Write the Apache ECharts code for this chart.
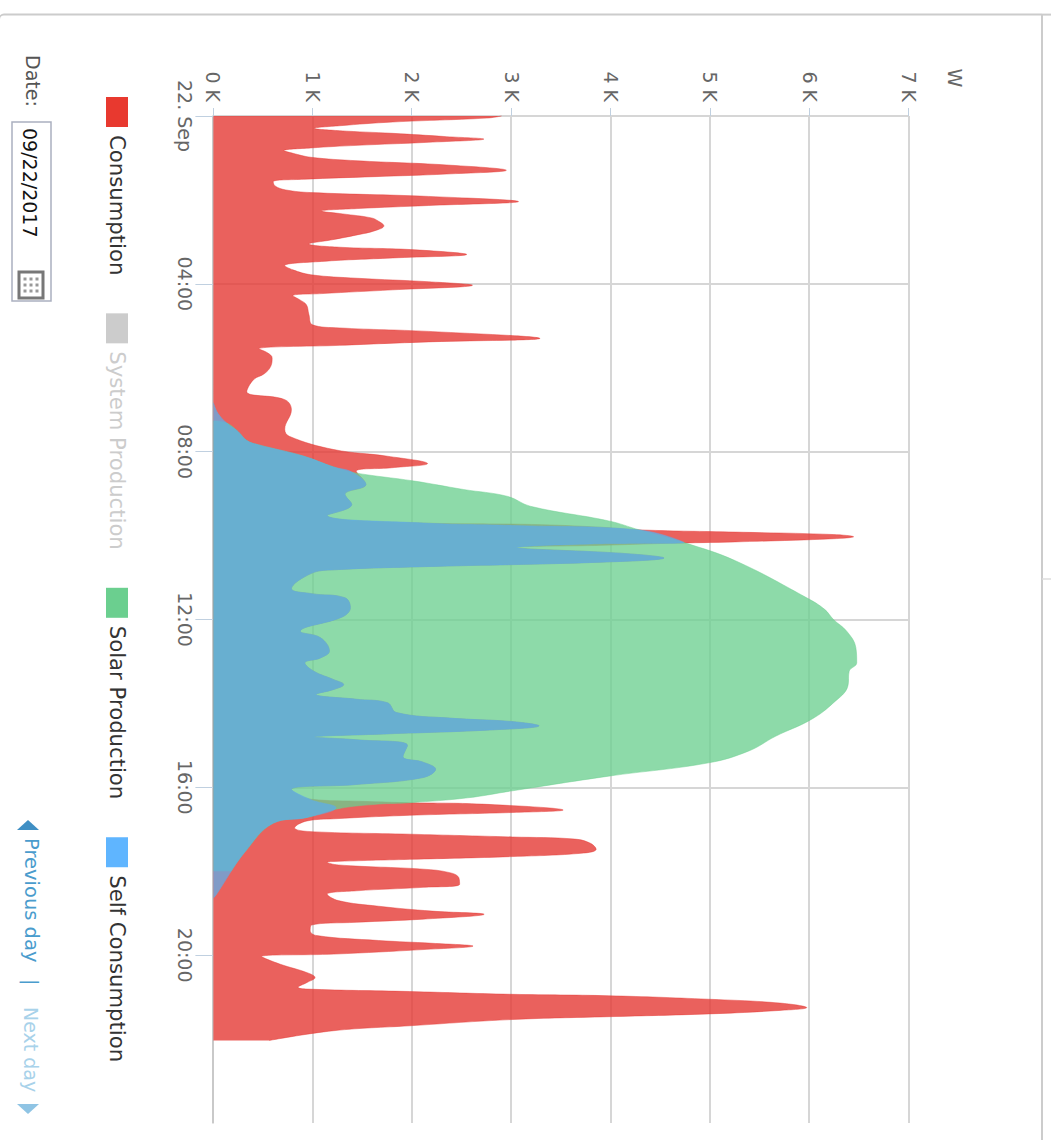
<!DOCTYPE html>
<html>
<head>
<meta charset="utf-8">
<script src="https://cdn.jsdelivr.net/npm/echarts@6/dist/echarts.min.js"></script>
<style>
html,body{margin:0;padding:0;width:1051px;height:1140px;overflow:hidden;background:#fff}
#chart{position:absolute;left:0;top:0;width:1140px;height:1051px;transform-origin:0 0;transform:translate(1051px,0) rotate(90deg)}
</style>
</head>
<body>
<div id="chart"></div>
<script>
// Time is minutes after midnight, power is watts.
const timeTickLabels = ['22. Sep', '04:00', '08:00', '12:00', '16:00', '20:00', ''];
const powerTickLabels = ['0 K', '1 K', '2 K', '3 K', '4 K', '5 K', '6 K', '7 K'];
const legendNames = ['Consumption', 'System Production', 'Solar Production', 'Self Consumption'];

const consumption = [
[0,2900],[3,2750],[8.6,1805],[14,1266],[17.6,1015],[21,1266],[24.8,1805],[29.5,2344],[33,2722],[37.6,2165],[42,1446],[45.7,980],[49.5,710],[53.3,800],[59,980],[64,1446],[70,2344],[77.6,2948],[83,2344],[86.7,1626],[90.5,907],[94,602],[100,620],[105.7,728],[109.5,980],[115,2165],[122.4,3070],[128,2165],[132.4,1446],[136,1087],[140,1302],[145.7,1590],[150.5,1662],[157,1716],[164,1626],[170,1446],[177,1195],[183,961],[187.6,1266],[191,1985],[198,2549],[203,1805],[208,1087],[214,717],[220,800],[227,980],[232,1446],[237,2165],[242,2607],[248.6,1805],[254,1087],[257,800],[263,871],[270,936],[284,961],[298.6,997],[303,1266],[308,2165],[318,3286],[323,2165],[328,1266],[333,458],[339,548],[346,591],[358,577],[368.6,512],[377,404],[394,336],[405.6,718],[420,785],[448,718],[458,763],[477,1212],[486.5,1751],[497,2155],[503,1796],[508,1437],
[527,1535],[541,1324],[555.5,1392],[571,1145],[582,2110],[584,3200],[588,3900],[592,4320],[595,5253],[598.5,6240],[601.7,6443],[604.5,6240],[609,5253],[611,4600],[614,3900],[617,3053],[625.5,4130],[632,4535],[638,3906],[644.5,2110],[649,1212],[654,987],[676,785],[683,987],[689,1324],[703,1378],[716,1302],[737,875],[746,1077],[765,1167],[775,1077],[782,920],[794,1010],[806,1212],[813,1311],[820,1212],[827,1032],[834,1437],[839,1751],[853,1841],[861,2379],[866,3008],[872,3277],[878,2783],[884,1661],[888,1010],[892,1437],[900,1953],[916,1908],[924,2110],[934,2236],[946,2110],[956,1437],[963,785],[977,987],[980,1500],[982,1975],[984,2700],[992.5,3520],[996,3008],[1000,1975],[1005,1212],[1008,943],[1018,817],[1023,943],[1027,1975],[1031,3008],[1034,3637],[1040,3794],[1048.5,3852],[1054,3726],[1059,3008],[1063,1975],[1066,1212],[1067,1145],[1071,1257],[1077,2110],[1082,2379],[1089,2469],[1098.5,2478],[1103,2110],[1108,1437],[1113,1145],[1122,1257],[1130,1661],[1137,2200],[1141.5,2725],[1148.5,2110],[1153,1437],[1157,987],[1165,974],[1172,1041],[1179,1661],[1183,2200],[1187,2613],[1192,2110],[1198.5,1212],[1202,485],[1213,673],[1225,943],[1232,1023],[1239,943],[1246,853],[1248.5,943],[1252,1975],[1256,3008],[1258,3973],[1263,4983],[1268.5,5702],[1275,5971],[1279,5702],[1284,4983],[1288,3973],[1292,3008],[1301,1975],[1308,1212],[1322,561]
];

const solarProduction = [
[436,0],[439,134],[451,247],[464,336],[470,449],[486,898],[502,1212],[510,1414],[522,2020],[534,2514],[544,2963],[558,3188],[579,3978],[592,4288],[610,4737],[636,5253],[689,5971],[705.5,6151],[720,6240],[737,6375],[760,6465],[782,6474],[794,6398],[815,6385],[839,6241],[863,6016],[887,5657],[908,5388],[925,4984],[944,3978],[965,3008],[975,2559],[982,1975],[984,1661],[990.5,1257],[1003,943],[1011,606],[1053,314],[1080,179]
];

const selfConsumption = [
[410,0],[425,45],[439,134],[451,247],[464,336],[470,449],[486,898],[502,1212],[509,1392],[527,1535],[541,1324],[555.5,1392],[571,1145],[582,2110],[585.5,3008],[592,4288],[610,4737],[612,3800],[617,3053],[625.5,4130],[632,4535],[638,3906],[644.5,2110],[649,1212],[654,987],[676,785],[683,987],[689,1324],[703,1378],[716,1302],[737,875],[746,1077],[765,1167],[775,1077],[782,920],[794,1010],[806,1212],[813,1311],[820,1212],[827,1032],[834,1437],[839,1751],[853,1841],[861,2379],[866,3008],[872,3277],[878,2783],[884,1661],[888,1010],[892,1437],[900,1953],[916,1908],[924,2110],[934,2236],[946,2110],[956,1437],[963,785],[978,987],[989,1234],[1003,943],[1011,606],[1053,314],[1115,22],[1118,0]
];

const systemProduction = [];

const FONT = '"DejaVu Sans", sans-serif';
const chart = echarts.init(document.getElementById('chart'), null, {renderer: 'svg', width: 1140, height: 1051});

function area(name, data, icon, fill, opacity, z) {
  return {
    name, type: 'line', data, z, smooth: 0.4, showSymbol: false, symbol: 'none', animation: false,
    itemStyle: {color: icon},
    lineStyle: {color: fill, width: 1, opacity: 0.45},
    areaStyle: {color: fill, opacity},
    emphasis: {disabled: true}, silent: true
  };
}

const calendarDots = [];
[279, 285, 291].forEach(x => [1014, 1020, 1026].forEach(y => calendarDots.push(
  {type: 'rect', silent: true, shape: {x: x - 1.5, y: y - 1.5, width: 3, height: 3}, style: {fill: '#999'}}
)));

chart.setOption({
  animation: false,
  backgroundColor: '#fff',
  grid: {left: 116, top: 142, width: 1007, height: 695.6},
  legend: {
    data: legendNames, left: 97, top: 923, padding: 0, itemWidth: 30, itemHeight: 22, itemGap: 38, icon: 'rect',
    selected: {'System Production': false}, inactiveColor: '#ccc', inactiveBorderWidth: 0,
    textStyle: {fontFamily: FONT, fontSize: 21.2, color: '#333', padding: [0, 0, 0, 3]}
  },
  xAxis: {
    type: 'value', min: 0, max: 1440, interval: 240,
    axisLine: {show: true, lineStyle: {color: '#c4c4c4', width: 1.5}},
    axisTick: {show: true, length: 18, lineStyle: {color: '#C0D0E0'}, customValues: [0, 240, 480, 720, 960, 1200]},
    splitLine: {show: true, showMaxLine: false, lineStyle: {color: '#d6d6d6', width: 2}},
    axisLabel: {margin: 19, fontFamily: FONT, fontSize: 19, color: '#666', customValues: [0, 240, 480, 720, 960, 1200],
      formatter: v => timeTickLabels[v / 240], hideOverlap: false}
  },
  yAxis: {
    type: 'value', min: 0, max: 7000, interval: 1000,
    name: 'W', nameLocation: 'end', nameGap: 36,
    nameTextStyle: {fontFamily: FONT, fontSize: 19, color: '#666', padding: [0, 76, 0, 0]},
    axisLine: {show: false},
    axisTick: {show: true, length: 8, lineStyle: {color: '#C0D0E0'}},
    splitLine: {show: true, lineStyle: {color: '#d6d6d6', width: 2}},
    axisLabel: {margin: 14, fontFamily: FONT, fontSize: 19, color: '#666', formatter: v => powerTickLabels[v / 1000]}
  },
  series: [
    area('Consumption', consumption, '#E8392F', '#E53935', 0.8, 2),
    area('System Production', systemProduction, '#999999', '#999999', 0.75, 3),
    area('Solar Production', solarProduction, '#6BCF8F', '#6BCF8F', 0.77, 4),
    area('Self Consumption', selfConsumption, '#5FB5FF', '#5FADE8', 0.76, 5)
  ],
  graphic: [
    {type: 'rect', silent: true, z: 0, shape: {x: 14.6, y: 9, width: 1200, height: 1043, r: [0, 0, 0, 5]}, style: {fill: 'none', stroke: '#cccccc', lineWidth: 2}},
    {type: 'line', silent: true, shape: {x1: 14.6, y1: 0, x2: 14.6, y2: 9}, style: {stroke: '#cccccc', lineWidth: 2}},
    {type: 'line', silent: true, shape: {x1: 579, y1: 0, x2: 579, y2: 9}, style: {stroke: '#dddddd', lineWidth: 1.5}},
    {type: 'text', silent: true, x: 55, y: 1018, style: {text: 'Date:', fontFamily: FONT, fontSize: 19, fill: '#555', verticalAlign: 'middle'}},
    {type: 'rect', silent: true, shape: {x: 122, y: 1000, width: 179, height: 39}, style: {fill: '#fff', stroke: '#aab0c0', lineWidth: 1.5}},
    {type: 'text', silent: true, x: 128, y: 1021, style: {text: '09/22/2017', fontFamily: FONT, fontSize: 19, fill: '#111', verticalAlign: 'middle'}},
    {type: 'rect', silent: true, shape: {x: 272, y: 1008, width: 26, height: 24}, style: {fill: '#fff', stroke: '#777', lineWidth: 3}},
    ...calendarDots,
    {type: 'polygon', silent: true, shape: {points: [[820, 1023], [830, 1012], [830, 1034]]}, style: {fill: '#3f8fc4'}},
    {type: 'text', silent: true, x: 838, y: 1020, style: {text: 'Previous day', fontFamily: FONT, fontSize: 19.5, fill: '#4a9ccd', verticalAlign: 'middle'}},
    {type: 'text', silent: true, x: 979, y: 1020, style: {text: '|', fontFamily: FONT, fontSize: 19, fill: '#4a9ccd', verticalAlign: 'middle'}},
    {type: 'text', silent: true, x: 1007, y: 1020, style: {text: 'Next day', fontFamily: FONT, fontSize: 19, fill: '#a8d2ea', verticalAlign: 'middle'}},
    {type: 'polygon', silent: true, shape: {points: [[1114, 1023], [1104, 1012], [1104, 1034]]}, style: {fill: '#8fc4e4'}}
  ]
});
</script>
</body>
</html>
